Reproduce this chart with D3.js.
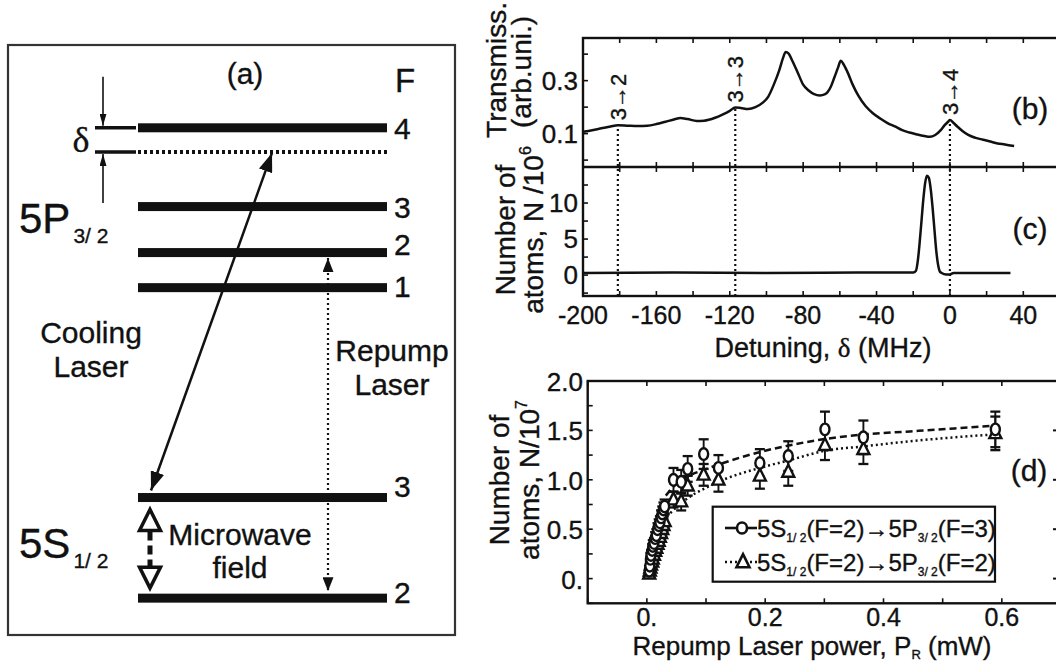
<!DOCTYPE html>
<html><head><meta charset="utf-8">
<script src="https://cdn.jsdelivr.net/npm/d3@7"></script>
<style>
body{margin:0;background:#fff}
text{font-family:"Liberation Sans",Arial,Helvetica,sans-serif;fill:#111;stroke:#111;stroke-width:0.35px}
</style>
</head><body>
<svg id="fig" width="1056" height="662"></svg>
<script>
// ================= DATA =================
// Panel (a): energy-level diagram (relative diagram energy units)
const upperLevelF = ['4', '3', '2', '1'];
const upperLevelE = [85.6, 71.9, 63.9, 57.8];
const detunedLevelE = 81.4;
const lowerLevelF = ['3', '2'];
const lowerLevelE = [21.3, 3.8];

// Panel (b): probe transmission (arb. units) vs detuning (MHz)
const transDetuning = [-200,-195,-190,-185,-181,-175,-170,-165,-160,-155,-150,-147,-143,-138,-134,-128,-124,-120,-117,-114,-110,-106,-102,-99,-96,-93,-91,-89.5,-88,-86,-83,-80,-77,-74,-71,-68,-65,-63,-61,-59.5,-58,-56,-53,-50,-46,-42,-38,-34,-30,-26,-22,-18,-14,-11,-8,-5,-3,-1,0,2,4,7,10,14,18,22,26,30,35];
const transValue = [0.107,0.113,0.120,0.127,0.132,0.130,0.129,0.130,0.136,0.145,0.154,0.159,0.155,0.148,0.149,0.160,0.172,0.186,0.199,0.197,0.193,0.200,0.217,0.240,0.285,0.340,0.385,0.408,0.403,0.376,0.331,0.285,0.263,0.249,0.244,0.249,0.276,0.312,0.349,0.375,0.362,0.335,0.285,0.244,0.204,0.177,0.157,0.140,0.127,0.113,0.104,0.097,0.091,0.088,0.095,0.113,0.131,0.145,0.151,0.140,0.127,0.109,0.095,0.084,0.077,0.070,0.063,0.059,0.053];
const bTicks = [0, 0.1, 0.2, 0.3, 0.4];
const bTickLabels = ['', '0.1', '', '0.3', ''];

// Panel (c): number of atoms (10^6) vs detuning
const atomDetuning = [-200,-150,-100,-50,-20,-18.5,-17.5,-16.5,-15.5,-14.5,-13.5,-12.5,-11.5,-10.5,-9.5,-8.5,-7.5,-6.5,-5.5,-4.5,-2,0,2,33];
const atomNumber = [0.3,0.35,0.3,0.35,0.35,0.6,2,4.5,7.5,10.5,12.8,13.8,13.5,12,9.5,6.5,3.5,1.5,0.5,0.3,0.1,0.1,0.3,0.3];
const cTicks = [-2.5, 0, 2.5, 5, 7.5, 10, 12.5];
const cTickLabels = ['', '0', '', '5', '', '10', ''];
const detuningTicks = [-200,-160,-120,-80,-40,0,40];

// Resonances marked in (b)/(c)
const resonanceDetuning = [-181, -117, 0];
const resonanceTrans = [0.132, 0.199, 0.151];
const resonanceLabels = ['3\u21922', '3\u21923', '3\u21924'];

// Panel (d): atoms (10^7) vs repump power (mW)
const repumpPower = [0.004,0.005,0.006,0.007,0.009,0.010,0.012,0.014,0.016,0.018,0.020,0.022,0.024,0.026,0.028,0.030,
                     0.045,0.058,0.069,0.096,0.121,0.191,0.239,0.301,0.366,0.589];
const atomsF3 = [0.08,0.13,0.20,0.24,0.29,0.33,0.36,0.41,0.44,0.50,0.54,0.57,0.62,0.66,0.70,0.73,
                 1.00,0.98,1.11,1.26,1.12,1.17,1.24,1.51,1.43,1.51];
const errF3 = [0.05,0.05,0.06,0.05,0.06,0.06,0.05,0.06,0.06,0.06,0.06,0.06,0.07,0.07,0.07,0.07,
               0.12,0.12,0.13,0.15,0.13,0.14,0.15,0.18,0.17,0.18];
const atomsF2 = [0.05,0.08,0.11,0.14,0.17,0.20,0.24,0.28,0.31,0.35,0.38,0.42,0.46,0.50,0.54,0.58,
                 0.80,0.78,0.94,1.05,1.00,1.04,1.08,1.35,1.31,1.47];
const errF2 = [0.04,0.05,0.05,0.05,0.05,0.05,0.06,0.05,0.06,0.06,0.06,0.06,0.06,0.07,0.07,0.07,
               0.08,0.09,0.10,0.11,0.12,0.13,0.14,0.15,0.15,0.17];
const fitF3Power = [0.032,0.045,0.068,0.096,0.129,0.197,0.242,0.298,0.369,0.445,0.52,0.589];
const fitF3Atoms = [0.84,0.93,1.03,1.10,1.17,1.29,1.35,1.41,1.46,1.49,1.52,1.55];
const fitF2Power = [0.028,0.039,0.055,0.073,0.10,0.129,0.197,0.242,0.298,0.369,0.445,0.52,0.589];
const fitF2Atoms = [0.59,0.66,0.75,0.83,0.92,1.00,1.13,1.20,1.29,1.34,1.39,1.43,1.46];
const dYTicks = [0, 0.5, 1.0, 1.5, 2.0];
const dYTickLabels = ['0.', '0.5', '1.0', '1.5', '2.0'];
const dXTicks = [0, 0.2, 0.4, 0.6];
const dXTickLabels = ['0.', '0.2', '0.4', '0.6'];

// ================= DRAW =================
const svg = d3.select('#fig');
svg.append('rect').attr('width', 1056).attr('height', 662).attr('fill', '#fff');
const defs = svg.append('defs');
function mk(id, len, wid) {
  defs.append('marker').attr('id', id).attr('viewBox', `0 0 ${len} ${wid}`)
    .attr('refX', len).attr('refY', wid / 2).attr('markerWidth', len).attr('markerHeight', wid)
    .attr('markerUnits', 'userSpaceOnUse').attr('orient', 'auto-start-reverse')
    .append('path').attr('d', `M0,0L${len},${wid / 2}L0,${wid}Z`).attr('fill', '#111');
}
mk('ahBig', 19, 14); mk('ahMid', 14, 11); mk('ahSmall', 12, 7);

// ---------- Panel (a) ----------
const gA = svg.append('g');
const yA = d3.scaleLinear().domain([0, 100]).range([620, 45]);
const barX0 = 138, barX1 = 387;
gA.append('rect').attr('x', 8).attr('y', 45).attr('width', 447).attr('height', 590)
  .attr('fill', 'none').attr('stroke', '#333').attr('stroke-width', 2.2);
const allE = upperLevelE.concat(lowerLevelE);
gA.selectAll('rect.lvl').data(allE).join('rect').attr('class', 'lvl')
  .attr('x', barX0).attr('width', barX1 - barX0).attr('y', d => yA(d) - 4.5).attr('height', 9).attr('fill', '#111');
gA.append('line').attr('x1', barX0).attr('x2', barX1).attr('y1', yA(detunedLevelE)).attr('y2', yA(detunedLevelE))
  .attr('stroke', '#111').attr('stroke-width', 4).attr('stroke-dasharray', '3,3');
[upperLevelE[0], detunedLevelE].forEach(e => {
  gA.append('line').attr('x1', 95).attr('x2', 136).attr('y1', yA(e)).attr('y2', yA(e))
    .attr('stroke', '#111').attr('stroke-width', 3.5);
});
gA.append('line').attr('x1', 103).attr('x2', 103).attr('y1', yA(upperLevelE[0]) - 51).attr('y2', yA(upperLevelE[0]) - 2)
  .attr('stroke', '#111').attr('stroke-width', 1.6).attr('marker-end', 'url(#ahSmall)');
gA.append('line').attr('x1', 103).attr('x2', 103).attr('y1', yA(detunedLevelE) + 51).attr('y2', yA(detunedLevelE) + 2)
  .attr('stroke', '#111').attr('stroke-width', 1.6).attr('marker-end', 'url(#ahSmall)');
gA.append('text').attr('x', 81).attr('y', 152).attr('text-anchor', 'middle')
  .style('font-family', '"Liberation Serif","DejaVu Serif",serif').attr('font-size', 36).text('\u03b4');
const upDy = [0, 0, -9, -2];
gA.selectAll('text.uf').data(upperLevelF).join('text').attr('class', 'uf')
  .attr('x', 394).attr('y', (d, i) => yA(upperLevelE[i]) + upDy[i] + 11).attr('font-size', 30).text(d => d);
const loDy = [-11.5, -6.5];
gA.selectAll('text.lf').data(lowerLevelF).join('text').attr('class', 'lf')
  .attr('x', 394).attr('y', (d, i) => yA(lowerLevelE[i]) + loDy[i] + 11).attr('font-size', 30).text(d => d);
gA.append('text').attr('x', 395).attr('y', 92).attr('font-size', 33).text('F');
gA.append('text').attr('x', 245).attr('y', 84).attr('text-anchor', 'middle').attr('font-size', 30).text('(a)');
const t5p = gA.append('text').attr('x', 19).attr('y', 233).attr('font-size', 42);
t5p.append('tspan').text('5P');
t5p.append('tspan').attr('font-size', 21).attr('dx', 3).attr('dy', 10).text('3/ 2');
const t5s = gA.append('text').attr('x', 19).attr('y', 558).attr('font-size', 42);
t5s.append('tspan').text('5S');
t5s.append('tspan').attr('font-size', 21).attr('dx', 3).attr('dy', 10).text('1/ 2');
[['Cooling', 91, 343], ['Laser', 91, 377], ['Repump', 392, 361], ['Laser', 392, 395], ['Microwave', 240, 545], ['field', 240, 578]]
  .forEach(([s, x, y]) => gA.append('text').attr('x', x).attr('y', y).attr('text-anchor', 'middle').attr('font-size', 30).text(s));
gA.append('line').attr('x1', 151).attr('y1', yA(lowerLevelE[0]) - 7).attr('x2', 272).attr('y2', yA(detunedLevelE) + 1)
  .attr('stroke', '#111').attr('stroke-width', 2.5)
  .attr('marker-start', 'url(#ahBig)').attr('marker-end', 'url(#ahBig)');
gA.append('line').attr('x1', 328).attr('x2', 328).attr('y1', yA(upperLevelE[2]) + 5.5).attr('y2', yA(lowerLevelE[1]) - 7)
  .attr('stroke', '#111').attr('stroke-width', 2.2).attr('stroke-dasharray', '2,3')
  .attr('marker-start', 'url(#ahMid)').attr('marker-end', 'url(#ahMid)');
const mwTop = yA(lowerLevelE[0]) + 12, mwBot = yA(lowerLevelE[1]) - 10;
gA.append('line').attr('x1', 150).attr('x2', 150).attr('y1', mwTop + 22).attr('y2', mwBot - 22)
  .attr('stroke', '#111').attr('stroke-width', 5).attr('stroke-dasharray', '9,5');
gA.append('path').attr('d', `M150,${mwTop}L139.5,${mwTop + 21}L160.5,${mwTop + 21}Z`)
  .attr('fill', '#fff').attr('stroke', '#111').attr('stroke-width', 3.5);
gA.append('path').attr('d', `M150,${mwBot}L139.5,${mwBot - 21}L160.5,${mwBot - 21}Z`)
  .attr('fill', '#fff').attr('stroke', '#111').attr('stroke-width', 3.5);

// ---------- Panels (b) and (c) ----------
const xBC = d3.scaleLinear().domain([-200, 60]).range([583, 1060]);
const yB = d3.scaleLinear().domain([-0.026, 0.461]).range([167, 38]);
const yC = d3.scaleLinear().domain([-2.9, 15]).range([296, 167]);
const gB = svg.append('g');
const frameW = 2.4;
gB.append('rect').attr('x', xBC(-200)).attr('y', yB.range()[1]).attr('width', 520).attr('height', yC.range()[0] - yB.range()[1])
  .attr('fill', 'none').attr('stroke', '#111').attr('stroke-width', frameW);
gB.append('line').attr('x1', xBC(-200)).attr('x2', 1070).attr('y1', yB.range()[0]).attr('y2', yB.range()[0])
  .attr('stroke', '#111').attr('stroke-width', frameW);
const minorX = d3.range(-200, 61, 20);
[[yB.range()[1], 1], [yB.range()[0], -1], [yC.range()[1], 1], [yC.range()[0], -1]].forEach(([y, dir]) => {
  gB.selectAll(null).data(minorX).join('line')
    .attr('x1', d => xBC(d)).attr('x2', d => xBC(d)).attr('y1', y).attr('y2', y + dir * 5)
    .attr('stroke', '#111').attr('stroke-width', 1.6);
});
gB.selectAll(null).data(bTicks).join('line').attr('x1', xBC(-200)).attr('x2', xBC(-200) + 5)
  .attr('y1', d => yB(d)).attr('y2', d => yB(d)).attr('stroke', '#111').attr('stroke-width', 1.6);
gB.selectAll(null).data(cTicks).join('line').attr('x1', xBC(-200)).attr('x2', xBC(-200) + 5)
  .attr('y1', d => yC(d)).attr('y2', d => yC(d)).attr('stroke', '#111').attr('stroke-width', 1.6);
gB.selectAll(null).data(bTicks).join('text').attr('x', 578).attr('y', d => yB(d) + 9)
  .attr('text-anchor', 'end').attr('font-size', 26).text((d, i) => bTickLabels[i]);
gB.selectAll(null).data(cTicks).join('text').attr('x', 578).attr('y', d => yC(d) + 9)
  .attr('text-anchor', 'end').attr('font-size', 26).text((d, i) => cTickLabels[i]);
gB.selectAll(null).data(detuningTicks).join('text').attr('x', d => xBC(d)).attr('y', 324)
  .attr('text-anchor', 'middle').attr('font-size', 25).text(d => d);
const dt = gB.append('text').attr('x', 823).attr('y', 357).attr('text-anchor', 'middle').attr('font-size', 27);
dt.append('tspan').text('Detuning, ');
dt.append('tspan').style('font-family', '"Liberation Serif","DejaVu Serif",serif').text('\u03b4');
dt.append('tspan').text(' (MHz)');
function vtext(x, y, size, anchor) {
  return svg.append('text').attr('transform', `translate(${x},${y}) rotate(-90)`)
    .attr('text-anchor', anchor).attr('font-size', size);
}
vtext(506, 70, 28, 'middle').text('Transmiss.');
vtext(531, 72, 28, 'middle').text('(arb.uni.)');
vtext(515, 230, 28, 'middle').text('Number of');
const c2 = vtext(543, 230, 28, 'middle');
c2.append('tspan').text('atoms, N /10');
c2.append('tspan').attr('font-size', 16).attr('dy', -12).text('6');
gB.selectAll(null).data(resonanceDetuning).join('line')
  .attr('x1', d => xBC(d)).attr('x2', d => xBC(d))
  .attr('y1', yC.range()[0]).attr('y2', (d, i) => yB(resonanceTrans[i]))
  .attr('stroke', '#111').attr('stroke-width', 2.2).attr('stroke-dasharray', '2,3');
gB.selectAll(null).data(resonanceDetuning).join('text')
  .attr('transform', (d, i) => `translate(${xBC(d) + 8},${yB(resonanceTrans[i]) - 5}) rotate(-90)`)
  .attr('font-size', 22).text((d, i) => resonanceLabels[i]);
const lineB = d3.line().x((d, i) => xBC(transDetuning[i])).y(d => yB(d)).curve(d3.curveMonotoneX);
gB.append('path').attr('d', lineB(transValue)).attr('fill', 'none').attr('stroke', '#111').attr('stroke-width', 2.5);
const lineC = d3.line().x((d, i) => xBC(atomDetuning[i])).y(d => yC(d)).curve(d3.curveMonotoneX);
gB.append('path').attr('d', lineC(atomNumber)).attr('fill', 'none').attr('stroke', '#111').attr('stroke-width', 2.5);
gB.append('text').attr('x', 1030).attr('y', 119).attr('text-anchor', 'middle').attr('font-size', 30).text('(b)');
gB.append('text').attr('x', 1030).attr('y', 239).attr('text-anchor', 'middle').attr('font-size', 30).text('(c)');

// ---------- Panel (d) ----------
const xD = d3.scaleLinear().domain([-0.1, 0.7]).range([587.7, 1061]);
const yD = d3.scaleLinear().domain([-0.25, 2.0]).range([603.3, 381]);
const gD = svg.append('g');
gD.append('rect').attr('x', xD(-0.1)).attr('y', yD(2.0)).attr('width', 475).attr('height', yD(-0.25) - yD(2.0))
  .attr('fill', 'none').attr('stroke', '#111').attr('stroke-width', frameW);
const dxMinor = d3.range(-0.1, 0.71, 0.1);
[[yD(2.0), 1], [yD(-0.25), -1]].forEach(([y, dir]) => {
  gD.selectAll(null).data(dxMinor).join('line').attr('x1', d => xD(d)).attr('x2', d => xD(d))
    .attr('y1', y).attr('y2', y + dir * 5).attr('stroke', '#111').attr('stroke-width', 1.6);
});
const dyMinor = d3.range(-0.25, 2.01, 0.25);
gD.selectAll(null).data(dyMinor).join('line').attr('x1', xD(-0.1)).attr('x2', xD(-0.1) + 5)
  .attr('y1', d => yD(d)).attr('y2', d => yD(d)).attr('stroke', '#111').attr('stroke-width', 1.6);
gD.selectAll(null).data(dYTicks).join('line').attr('x1', xD(0.7) - 8).attr('x2', xD(0.7))
  .attr('y1', d => yD(d)).attr('y2', d => yD(d)).attr('stroke', '#111').attr('stroke-width', 2);
gD.selectAll(null).data(dYTicks).join('text').attr('x', 583).attr('y', d => yD(d) + 10)
  .attr('text-anchor', 'end').attr('font-size', 26).text((d, i) => dYTickLabels[i]);
gD.selectAll(null).data(dXTicks).join('text').attr('x', d => xD(d)).attr('y', 626)
  .attr('text-anchor', 'middle').attr('font-size', 25).text((d, i) => dXTickLabels[i]);
const xt = gD.append('text').attr('x', 812).attr('y', 655).attr('text-anchor', 'middle').attr('font-size', 26);
xt.append('tspan').text('Repump Laser power, P');
xt.append('tspan').attr('font-size', 13).attr('dy', 4).text('R');
xt.append('tspan').attr('dy', -4).text(' (mW)');
vtext(509, 480, 28, 'middle').text('Number of');
const d2 = vtext(539, 480, 28, 'middle');
d2.append('tspan').text('atoms, N/10');
d2.append('tspan').attr('font-size', 16).attr('dy', -12).text('7');
const fitLine = d3.line().curve(d3.curveMonotoneX);
gD.append('path').attr('d', fitLine(fitF3Power.map((p, i) => [xD(p), yD(fitF3Atoms[i])])))
  .attr('fill', 'none').attr('stroke', '#111').attr('stroke-width', 2.5).attr('stroke-dasharray', '7,4');
gD.append('path').attr('d', fitLine(fitF2Power.map((p, i) => [xD(p), yD(fitF2Atoms[i])])))
  .attr('fill', 'none').attr('stroke', '#111').attr('stroke-width', 2.5).attr('stroke-dasharray', '2,3');
function errBars(vals, errs) {
  const g = gD.append('g').attr('stroke', '#111').attr('stroke-width', 1.9);
  repumpPower.forEach((p, i) => {
    const x = xD(p), y1 = yD(vals[i] - errs[i]), y2 = yD(vals[i] + errs[i]);
    g.append('line').attr('x1', x).attr('x2', x).attr('y1', y1).attr('y2', y2);
    g.append('line').attr('x1', x - 5).attr('x2', x + 5).attr('y1', y1).attr('y2', y1).attr('stroke-width', 2.3);
    g.append('line').attr('x1', x - 5).attr('x2', x + 5).attr('y1', y2).attr('y2', y2).attr('stroke-width', 2.3);
  });
}
errBars(atomsF3, errF3);
errBars(atomsF2, errF2);
const triPath = (x, y, s) => `M${x},${y - s * 0.6}L${x + s / 2},${y + s * 0.4}L${x - s / 2},${y + s * 0.4}Z`;
gD.selectAll(null).data(atomsF2).join('path')
  .attr('d', (d, i) => triPath(xD(repumpPower[i]), yD(d), 12))
  .attr('fill', '#fff').attr('stroke', '#111').attr('stroke-width', 2.4);
gD.selectAll(null).data(atomsF3).join('ellipse')
  .attr('cx', (d, i) => xD(repumpPower[i])).attr('cy', d => yD(d)).attr('rx', 4.5).attr('ry', 5.8)
  .attr('fill', '#fff').attr('stroke', '#111').attr('stroke-width', 2.4);
const lg = gD.append('g');
lg.append('rect').attr('x', 712.7).attr('y', 506.7).attr('width', 282.3).attr('height', 75)
  .attr('fill', '#fff').attr('stroke', '#111').attr('stroke-width', 2.2);
lg.append('line').attr('x1', 725).attr('x2', 757).attr('y1', 528).attr('y2', 528).attr('stroke', '#111').attr('stroke-width', 2.6);
lg.append('ellipse').attr('cx', 742).attr('cy', 528).attr('rx', 5).attr('ry', 5.5).attr('fill', '#fff').attr('stroke', '#111').attr('stroke-width', 2.6);
lg.append('line').attr('x1', 725).attr('x2', 757).attr('y1', 562).attr('y2', 562).attr('stroke', '#111').attr('stroke-width', 2.6).attr('stroke-dasharray', '2,3');
lg.append('path').attr('d', triPath(743, 562, 13)).attr('fill', '#fff').attr('stroke', '#111').attr('stroke-width', 2.6);
function legText(y, fUp) {
  const t = lg.append('text').attr('x', 757).attr('y', y).attr('font-size', 24);
  t.append('tspan').text('5S');
  t.append('tspan').attr('font-size', 12).attr('dy', 5).text('1/ 2');
  t.append('tspan').attr('dy', -5).attr('dx', 0).text('(F=2)\u21925P');
  t.append('tspan').attr('font-size', 12).attr('dy', 5).text('3/ 2');
  t.append('tspan').attr('dy', -5).attr('dx', 0).text(`(F=${fUp})`);
}
legText(537, 3);
legText(571, 2);
gD.append('text').attr('x', 1029).attr('y', 481).attr('text-anchor', 'middle').attr('font-size', 30).text('(d)');
</script>
</body></html>
